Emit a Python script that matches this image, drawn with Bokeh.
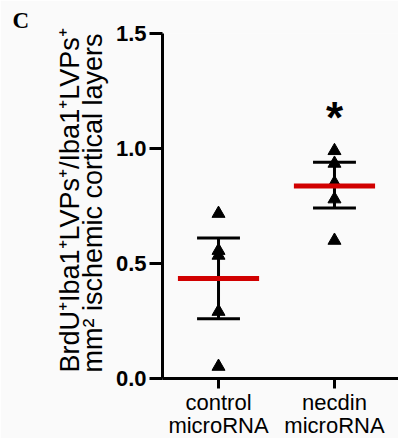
from bokeh.plotting import figure
from bokeh.models import Label, FixedTicker, Range1d, Title
from bokeh.embed import file_html
from bokeh.resources import INLINE

# ---- data ----
groups = [1, 2]
group_labels = ["control\nmicroRNA", "necdin\nmicroRNA"]
control_vals = [0.717, 0.556, 0.535, 0.291, 0.052]
necdin_vals = [0.99, 0.935, 0.85, 0.78, 0.60]
means = [0.435, 0.837]
err_low = [0.26, 0.741]
err_high = [0.611, 0.94]
y_ticks = [0.0, 0.5, 1.0, 1.5]
y_tick_labels = ["0.0", "0.5", "1.0", "1.5"]
sig_group = 2
sig_y = 1.135
ylabel_lines = ["BrdU\u207aIba1\u207aLVPs\u207a/Iba1\u207aLVPs\u207a",
                "mm\u00b2 ischemic cortical layers"]
panel_letter = "C"

FONT = "Liberation Sans"
BG = "#fafafa"

p = figure(frame_width=236, frame_height=345,
           x_range=Range1d(0.517, 2.552), y_range=Range1d(0, 1.5),
           output_backend="svg", toolbar_location=None,
           min_border_left=162, min_border_right=0,
           min_border_top=33, min_border_bottom=60)
p.outline_line_color = None
p.xgrid.visible = False
p.ygrid.visible = False
p.background_fill_color = BG
p.border_fill_color = BG

# axes
p.yaxis.ticker = FixedTicker(ticks=y_ticks)
p.yaxis.major_label_overrides = {t: l for t, l in zip(y_ticks, y_tick_labels)}
p.yaxis.major_label_text_font = FONT
p.yaxis.major_label_text_font_style = "bold"
p.yaxis.major_label_text_font_size = "22px"
p.yaxis.major_label_text_color = "black"
p.yaxis.major_label_standoff = 3
p.yaxis.major_tick_out = 13
p.yaxis.major_tick_in = 0
p.yaxis.minor_tick_line_color = None
p.yaxis.axis_line_width = 3
p.yaxis.major_tick_line_width = 3

p.xaxis.ticker = FixedTicker(ticks=groups)
p.xaxis.major_label_overrides = {g: l for g, l in zip(groups, group_labels)}
p.xaxis.major_label_text_font = FONT
p.xaxis.major_label_text_font_size = "22px"
p.xaxis.major_label_text_line_height = 0.95
p.xaxis.major_label_text_color = "black"
p.xaxis.major_label_standoff = 1
p.xaxis.major_tick_out = 10
p.xaxis.major_tick_in = 0
p.xaxis.minor_tick_line_color = None
p.xaxis.axis_line_width = 3
p.xaxis.major_tick_line_width = 3

# error bars
p.segment(x0=groups, x1=groups, y0=err_low, y1=err_high, line_color="black", line_width=3)
cap_half = 0.185
for lo_hi in (err_low, err_high):
    p.segment(x0=[g - cap_half for g in groups], x1=[g + cap_half for g in groups],
              y0=lo_hi, y1=lo_hi, line_color="black", line_width=3)

# points
p.scatter(x=[groups[0]] * len(control_vals), y=control_vals, marker="triangle",
          size=13, fill_color="black", line_color="black")
p.scatter(x=[groups[1]] * len(necdin_vals), y=necdin_vals, marker="triangle",
          size=13, fill_color="black", line_color="black")

# mean lines
mean_half = 0.35
p.segment(x0=[g - mean_half for g in groups], x1=[g + mean_half for g in groups],
          y0=means, y1=means, line_color="#d10000", line_width=5)

# significance star
p.add_layout(Label(x=sig_group, y=sig_y, text="*", text_font=FONT, text_font_size="44px",
                   text_font_style="bold", text_align="center", text_baseline="alphabetic",
                   text_color="black"))

# y label (two lines, starting near the bottom)
p.add_layout(Title(text="\n".join(ylabel_lines), align="left", offset=6, standoff=10,
                   text_font=FONT, text_font_size="27px", text_font_style="normal",
                   text_line_height=0.75, text_color="black"), "left")

# panel letter
p.add_layout(Title(text=panel_letter, align="left", offset=-150, standoff=1,
                   text_font="Liberation Serif", text_font_size="23px",
                   text_font_style="bold", text_color="black"), "above")

open("out.html", "w").write(file_html(p, INLINE))
